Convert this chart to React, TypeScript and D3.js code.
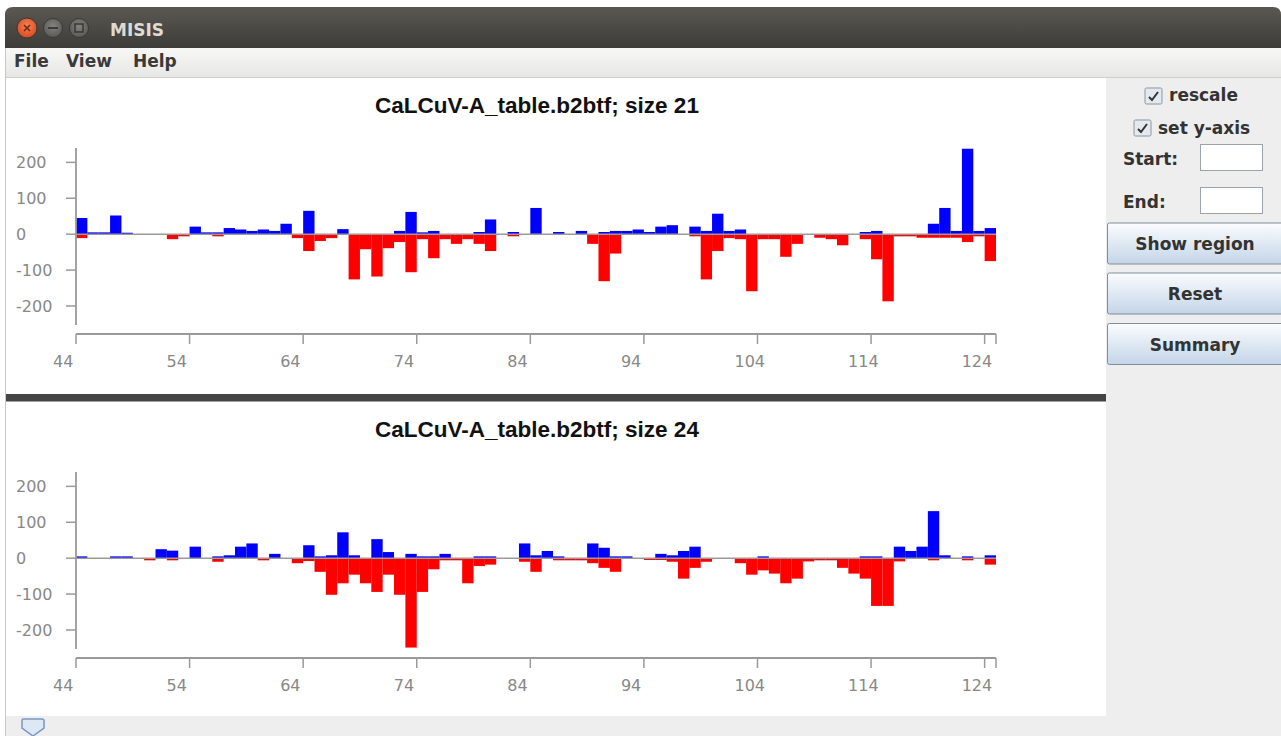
import React from 'react';
import * as d3 from 'd3';

// positions 44..124, one bar per position
const positions = d3.range(44, 125);
const xTicks = [44, 54, 64, 74, 84, 94, 104, 114, 124];
const yTicks = [-200, -100, 0, 100, 200];

const titles = ['CaLCuV-A_table.b2btf; size 21', 'CaLCuV-A_table.b2btf; size 24'];

// size 21
const plusA = [45, 5, 5, 52, 4, 0, 0, 0, 0, 0, 21, 5, 5, 17, 13, 9, 13, 9, 29, 0, 65, 0, 0, 14, 0, 0, 0, 0, 9, 62, 5, 9, 0, 0, 0, 6, 41, 0, 6, 0, 73, 0, 6, 0, 9, 0, 6, 9, 9, 13, 6, 21, 25, 0, 21, 9, 57, 9, 13, 0, 0, 0, 0, 0, 0, 0, 0, 0, 0, 6, 9, 0, 0, 0, 0, 29, 73, 9, 238, 9, 17];
const minusA = [-11, 0, 0, 0, 0, 0, 0, 0, -14, -6, 0, 0, -6, 0, 0, 0, 0, 0, 0, -11, -47, -19, -11, 0, -126, -42, -118, -39, -22, -106, -14, -67, -14, -27, -14, -27, -47, 0, -6, 0, 0, 0, 0, 0, 0, -27, -131, -54, 0, 0, 0, 0, 0, 0, -6, -126, -47, -11, -14, -159, -14, -14, -63, -27, 0, -10, -14, -31, 0, -14, -70, -187, -6, -6, -10, -10, -10, -10, -22, -6, -75];

// size 24
const plusB = [5, 0, 0, 5, 5, 0, 0, 25, 21, 0, 32, 0, 5, 8, 32, 41, 0, 12, 0, 0, 36, 5, 8, 72, 8, 0, 53, 17, 0, 12, 5, 5, 12, 0, 0, 5, 5, 0, 0, 41, 8, 20, 5, 0, 0, 41, 29, 5, 5, 0, 0, 12, 8, 20, 32, 0, 0, 0, 0, 0, 5, 0, 0, 0, 0, 0, 0, 0, 0, 5, 5, 0, 32, 20, 32, 131, 8, 0, 5, 0, 8];
const minusB = [0, 0, 0, 0, 0, 0, -6, 0, -6, 0, 0, 0, -10, 0, 0, 0, -6, 0, 0, -14, -8, -38, -102, -70, -46, -70, -94, -46, -102, -249, -94, -31, -6, -6, -70, -22, -18, 0, 0, -10, -38, 0, -6, -6, -6, -14, -27, -38, 0, 0, -5, -5, -10, -57, -27, -10, 0, 0, -14, -46, -34, -43, -70, -57, -9, -6, -6, -27, -43, -57, -133, -133, -9, 0, 0, -6, 0, 0, -6, 0, -18];

const AXIS = '#9a9a9a';
const LABEL = '#888888';
const UI = '"DejaVu Sans", sans-serif';

const x = d3.scaleLinear().domain([44, 125]).range([76, 996]);

function Chart({ title, plus, minus, dy }: { title: string; plus: number[]; minus: number[]; dy: number }) {
  const y = d3.scaleLinear().domain([-253, 240]).range([325 + dy, 148 + dy]);
  const axisY = 334 + dy;
  const y0 = y(0);
  return (
    <g>
      <text x={537} y={113 + dy} textAnchor="middle" fontFamily='"Liberation Sans", Arial, sans-serif'
        fontWeight="bold" fontSize={22.5} fill="#111">{title}</text>
      {positions.map((p, i) => (
        <g key={p}>
          {plus[i] > 0 && <rect x={x(p)} y={y(plus[i])} width={x(p + 1) - x(p)} height={y0 - y(plus[i])} fill="#0000ff" />}
          {minus[i] < 0 && <rect x={x(p)} y={y0} width={x(p + 1) - x(p)} height={y(minus[i]) - y0} fill="#ff0000" />}
        </g>
      ))}
      <line x1={76} x2={996} y1={y0} y2={y0} stroke={AXIS} strokeWidth={1.5} />
      {/* y axis */}
      <line x1={76} x2={76} y1={y.range()[1]} y2={y.range()[0]} stroke={AXIS} strokeWidth={1.8} />
      {yTicks.map(t => (
        <g key={t}>
          <line x1={66} x2={76} y1={y(t)} y2={y(t)} stroke={AXIS} strokeWidth={1.5} />
          <text x={16} y={y(t)} dy="0.36em" fontFamily={UI} fontSize={16} fill={LABEL}>{t}</text>
        </g>
      ))}
      {/* x axis */}
      <line x1={76} x2={996} y1={axisY} y2={axisY} stroke={AXIS} strokeWidth={1.8} />
      {[...xTicks, 125].map(t => (
        <line key={t} x1={x(t)} x2={x(t)} y1={axisY} y2={axisY + 10} stroke={AXIS} strokeWidth={1.5} />
      ))}
      {xTicks.map(t => (
        <text key={t} x={x(t) - 23} y={367 + dy} fontFamily={UI} fontSize={16} fill={LABEL}>{t}</text>
      ))}
    </g>
  );
}

function CheckBox({ x0, y0 }: { x0: number; y0: number }) {
  return (
    <g>
      <rect x={x0} y={y0} width={17} height={16} rx={1.5} fill="#e4e9ef" stroke="#8a96a3" strokeWidth={1} />
      <path d={`M${x0 + 4},${y0 + 9} L${x0 + 7},${y0 + 12} L${x0 + 13},${y0 + 4}`} fill="none" stroke="#333" strokeWidth={2} />
    </g>
  );
}

function Button({ y0, label }: { y0: number; label: string }) {
  return (
    <g>
      <rect x={1107.5} y={y0} width={180} height={41} rx={2} fill="url(#btn)" stroke="#7f8c99" strokeWidth={1} />
      <text x={1195} y={y0 + 27} textAnchor="middle" fontFamily={UI} fontWeight="bold" fontSize={17} fill="#333">{label}</text>
    </g>
  );
}

export default function App() {
  return (
    <svg width={1281} height={736} style={{ position: 'absolute', left: 0, top: 0 }}>
      <defs>
        <linearGradient id="tb" x1="0" y1="0" x2="0" y2="1">
          <stop offset="0" stopColor="#5a5852" />
          <stop offset="1" stopColor="#3d3c38" />
        </linearGradient>
        <linearGradient id="mb" x1="0" y1="0" x2="0" y2="1">
          <stop offset="0" stopColor="#f7f7f6" />
          <stop offset="1" stopColor="#e6e6e4" />
        </linearGradient>
        <linearGradient id="btn" x1="0" y1="0" x2="0" y2="1">
          <stop offset="0" stopColor="#fbfcfe" />
          <stop offset="1" stopColor="#c3d5e8" />
        </linearGradient>
        <radialGradient id="close" cx="0.5" cy="0.4" r="0.6">
          <stop offset="0" stopColor="#f4845a" />
          <stop offset="1" stopColor="#d9481c" />
        </radialGradient>
        <radialGradient id="grayb" cx="0.5" cy="0.4" r="0.6">
          <stop offset="0" stopColor="#84837e" />
          <stop offset="1" stopColor="#5a5955" />
        </radialGradient>
      </defs>
      <rect width={1281} height={736} fill="#ffffff" />
      {/* title bar */}
      <path d="M5,48 L5,15 Q5,7 13,7 L1273,7 Q1281,7 1281,15 L1281,48 Z" fill="url(#tb)" />
      <circle cx={27} cy={28} r={10} fill="url(#close)" stroke="#3a3935" strokeWidth={1} />
      <path d="M24,25 L30,31 M30,25 L24,31" stroke="#6b2a12" strokeWidth={1.6} />
      <circle cx={53} cy={28} r={9.5} fill="url(#grayb)" stroke="#3a3935" strokeWidth={1} />
      <line x1={48} x2={58} y1={28} y2={28} stroke="#3d3c38" strokeWidth={2} />
      <circle cx={79} cy={28} r={9.5} fill="url(#grayb)" stroke="#3a3935" strokeWidth={1} />
      <rect x={75} y={24} width={8} height={8} fill="none" stroke="#3d3c38" strokeWidth={1.6} />
      <text x={110} y={36} fontFamily={UI} fontWeight="bold" fontSize={17} fill="#dfdbd2">MISIS</text>
      {/* menu bar */}
      <rect x={5} y={48} width={1276} height={30} fill="url(#mb)" />
      <line x1={5} x2={1281} y1={77.5} y2={77.5} stroke="#cfcfcd" />
      <text y={67} fontFamily={UI} fontWeight="bold" fontSize={17} fill="#3a3a3a">
        <tspan x={14}>File</tspan>
        <tspan x={66}>View</tspan>
        <tspan x={133}>Help</tspan>
      </text>
      {/* panels */}
      <rect x={1106} y={78} width={175} height={658} fill="#eeeeee" />
      <rect x={5} y={716} width={1101} height={20} fill="#eeeeee" />
      <path d="M23,719 L42,719 Q44,719 44,721 L44,728 L33,736 L22,728 L22,721 Q22,719 23,719 Z" fill="#dde8f5" stroke="#7896c0" strokeWidth={1.5} />
      <line x1={5.5} x2={5.5} y1={48} y2={736} stroke="#c8c8c8" />
      <rect x={6} y={394} width={1100} height={7.5} fill="#454545" />
      <Chart title={titles[0]} plus={plusA} minus={minusA} dy={0} />
      <Chart title={titles[1]} plus={plusB} minus={minusB} dy={324} />
      {/* controls */}
      <CheckBox x0={1145} y0={88} />
      <text x={1169} y={101} fontFamily={UI} fontWeight="bold" fontSize={17} fill="#333">rescale</text>
      <CheckBox x0={1134} y0={120} />
      <text x={1158} y={134} fontFamily={UI} fontWeight="bold" fontSize={17} fill="#333">set y-axis</text>
      <text x={1123} y={165} fontFamily={UI} fontWeight="bold" fontSize={17} fill="#333">Start:</text>
      <rect x={1200.5} y={144.5} width={62} height={26} fill="#fff" stroke="#9aa4ae" />
      <text x={1123} y={208} fontFamily={UI} fontWeight="bold" fontSize={17} fill="#333">End:</text>
      <rect x={1200.5} y={187.5} width={62} height={26} fill="#fff" stroke="#9aa4ae" />
      <Button y0={223} label="Show region" />
      <Button y0={273} label="Reset" />
      <Button y0={323.5} label="Summary" />
    </svg>
  );
}
